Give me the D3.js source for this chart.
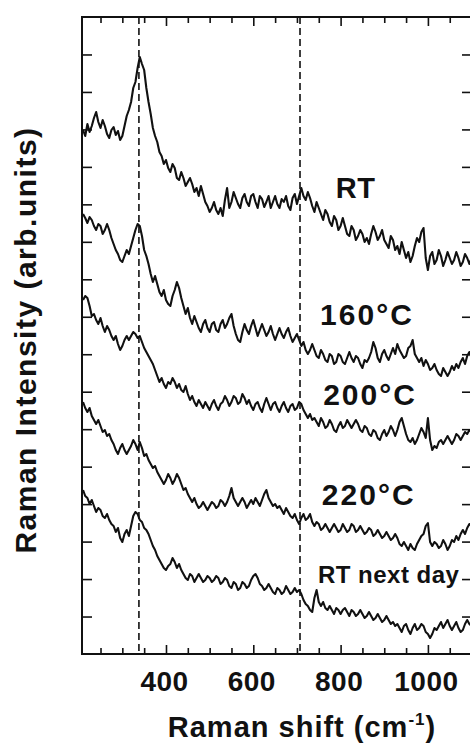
<!DOCTYPE html>
<html><head><meta charset="utf-8">
<script src="https://cdn.jsdelivr.net/npm/d3@7"></script>
<style>
html,body{margin:0;padding:0;background:#fff;}
svg{display:block;font-family:"Liberation Sans",Arial,Helvetica,sans-serif;}
</style></head>
<body><svg id="c" width="470" height="745"></svg>
<script>
// Raman shift grid (cm^-1)
const shifts = [210,215,220,225,230,235,240,245,250,255,260,265,270,275,280,285,290,295,300,305,
 310,315,320,325,330,335,340,345,350,355,360,365,370,375,380,385,390,395,400,405,
 410,415,420,425,430,435,440,445,450,455,460,465,470,475,480,485,490,495,500,505,
 510,515,520,525,530,535,540,545,550,555,560,565,570,575,580,585,590,595,600,605,
 610,615,620,625,630,635,640,645,650,655,660,665,670,675,680,685,690,695,700,705,
 710,715,720,725,730,735,740,745,750,755,760,765,770,775,780,785,790,795,800,805,
 810,815,820,825,830,835,840,845,850,855,860,865,870,875,880,885,890,895,900,905,
 910,915,920,925,930,935,940,945,950,955,960,965,970,975,980,985,990,995,1000,1005,
 1010,1015,1020,1025,1030,1035,1040,1045,1050,1055,1060,1065,1070,1075,1080,1085,1090,1095,1100];

// Intensities (arb. units, traces offset as plotted)
const rt = [524,518,530,522,528,536,542,532,526,534,528,520,516,524,527,519,523,514,518,528,
 538,544,552,566,572,586,597,590,584,566,552,540,526,518,512,502,498,490,494,486,
 482,490,486,476,474,482,476,468,472,476,470,462,466,458,468,460,452,448,442,446,
 452,444,440,446,438,454,466,446,452,462,456,450,446,456,460,452,448,458,460,452,
 446,458,455,447,452,458,446,452,458,450,446,455,452,458,448,444,456,460,450,458,
 466,458,454,462,456,448,442,452,446,440,434,444,440,432,428,438,434,424,428,436,
 428,420,418,428,424,414,418,424,420,412,416,410,420,428,422,414,418,424,414,410,
 406,418,414,404,408,400,412,404,396,402,392,398,408,416,412,422,426,396,384,398,
 402,390,394,404,398,388,394,402,396,390,394,402,396,388,392,400,396,390,396];
const t160 = [440,436,431,437,434,428,424,430,428,420,424,430,424,416,410,404,400,394,392,398,
 404,400,408,416,424,430,428,418,404,398,390,380,372,378,370,362,358,364,354,350,
 348,358,364,372,366,356,348,340,346,336,330,338,332,326,322,330,334,326,322,330,
 332,324,322,330,334,326,330,336,340,328,320,314,312,322,330,324,320,328,334,326,
 318,324,330,324,318,322,328,320,314,320,326,320,316,322,326,318,312,316,320,314,
 308,312,304,300,304,310,304,298,296,304,300,294,292,300,298,290,292,300,298,292,
 290,296,302,296,292,298,296,290,286,294,292,296,302,312,306,296,292,300,304,298,
 294,300,306,300,310,304,300,296,298,306,308,314,300,296,292,296,288,294,290,284,
 286,290,284,280,278,286,282,278,282,288,284,290,286,292,296,290,298,302,296];
const t200 = [354,358,356,348,338,340,334,330,336,328,322,328,324,318,314,318,310,304,308,314,
 318,314,318,322,320,316,318,312,306,302,298,294,290,284,278,272,276,270,266,272,
 270,276,272,266,270,264,262,268,260,254,258,252,248,254,250,246,252,248,244,250,
 254,248,244,250,252,258,254,248,252,258,256,250,252,260,256,250,254,248,244,250,
 252,246,242,250,256,250,244,250,252,246,242,248,252,246,242,248,250,244,246,252,
 250,244,240,236,240,234,236,232,228,236,232,226,228,234,230,224,222,228,232,226,
 228,234,230,226,230,234,230,224,222,228,226,220,218,224,222,216,214,220,224,218,
 222,228,224,218,224,232,236,228,220,214,212,216,210,214,220,226,222,216,236,214,
 204,208,206,212,214,210,214,218,214,210,214,220,218,214,218,222,220,224,222];
const t220 = [252,246,242,246,238,234,230,234,228,222,224,218,220,214,210,204,200,206,210,204,
 200,204,208,214,210,204,212,206,198,200,194,190,186,188,182,178,174,170,174,180,
 176,170,174,180,176,170,164,166,160,156,152,156,150,146,148,152,148,144,148,152,
 150,146,148,154,152,148,152,158,166,156,152,148,152,156,152,146,150,154,150,156,
 152,148,154,160,164,156,152,148,150,146,148,144,140,146,142,138,136,140,134,130,
 136,140,134,136,140,132,128,132,130,124,126,130,126,122,126,130,126,122,124,130,
 126,122,124,130,128,122,124,128,124,120,122,126,124,118,120,124,120,116,118,122,
 118,114,116,120,116,110,108,112,108,104,110,106,104,110,114,118,120,128,131,112,
 108,112,110,106,108,114,110,104,108,114,112,118,114,120,124,120,126,130,128];
const rtNext = [164,158,156,150,154,148,142,146,144,138,136,140,134,130,128,122,126,116,112,120,
 124,118,128,138,142,140,134,132,126,124,120,114,108,104,98,94,90,86,84,88,
 90,96,92,86,90,84,80,76,74,80,78,72,76,80,76,72,74,78,76,72,
 74,78,76,70,72,76,74,68,66,72,70,64,66,72,70,66,68,74,78,80,
 76,70,68,64,66,70,66,62,60,66,64,60,62,68,64,60,62,66,62,64,
 60,54,50,48,44,42,56,64,52,48,52,46,44,48,44,40,46,44,40,44,
 46,42,38,44,42,38,40,44,40,36,38,42,38,34,36,40,36,32,34,38,
 34,30,32,28,30,26,22,28,30,24,20,26,30,24,26,30,28,22,20,16,
 20,26,24,28,32,26,30,34,28,24,28,32,26,22,24,30,34,30,28];

const seriesNames = ["RT","160\u00B0C","200\u00B0C","220\u00B0C","RT next day"];
const seriesValues = [rt, t160, t200, t220, rtNext];
// label anchor (shift, intensity) in data coords
const labelShift = [789, 753, 760, 757, 748];
const labelLevel = [456, 329, 249, 149, 71];
const labelSize = [29, 30, 30, 30, 24];

const markerLines = [338, 707];
const xMajor = [400,600,800,1000];
const xTickLabels = ["400","600","800","1000"];
const xMinor = [250,300,350,450,500,550,650,700,750,850,900,950,1050,1100];
const yMax = 637, yDivisions = 17;

const L=82, R=472, T=17, B=654;
const svg = d3.select("#c");
const x = d3.scaleLinear().domain([207.6,1101]).range([L,R]);
const y = d3.scaleLinear().domain([0,yMax]).range([B,T]);

svg.append("defs").append("clipPath").attr("id","clip")
  .append("rect").attr("x",L).attr("y",T).attr("width",R-L).attr("height",B-T);

// dashed reference lines
svg.selectAll("line.dash").data(markerLines).enter().append("line")
  .attr("x1",d=>x(d)).attr("x2",d=>x(d)).attr("y1",T).attr("y2",B)
  .attr("stroke","#111").attr("stroke-width",1.6).attr("stroke-dasharray","7,4");

// traces
const line = d3.line().x((d,i)=>x(shifts[i])).y(d=>y(d));
svg.append("g").attr("clip-path","url(#clip)").selectAll("path").data(seriesValues).enter()
  .append("path").attr("d",d=>line(d)).attr("fill","none")
  .attr("stroke","#111").attr("stroke-width",2.1).attr("stroke-linejoin","round");

// axes (ticks pointing inward)
const gB = svg.append("g").attr("transform",`translate(0,${B})`)
  .call(d3.axisBottom(x).tickValues(xMajor).tickSize(-9).tickFormat((d,i)=>xTickLabels[i]).tickPadding(17));
const gBm = svg.append("g").attr("transform",`translate(0,${B})`)
  .call(d3.axisBottom(x).tickValues(xMinor).tickSize(-6).tickFormat(""));
const gT = svg.append("g").attr("transform",`translate(0,${T})`)
  .call(d3.axisTop(x).tickValues(xMajor).tickSize(-9).tickFormat(""));
const gTm = svg.append("g").attr("transform",`translate(0,${T})`)
  .call(d3.axisTop(x).tickValues(xMinor).tickSize(-6).tickFormat(""));
const yTicks = d3.range(1,yDivisions).map(i=>i*yMax/yDivisions);
const gL = svg.append("g").attr("transform",`translate(${L},0)`)
  .call(d3.axisLeft(y).tickValues(yTicks).tickSize(-10).tickFormat(""));
const gR = svg.append("g").attr("transform",`translate(${R},0)`)
  .call(d3.axisRight(y).tickValues(yTicks).tickSize(-10).tickFormat(""));
[gB,gBm,gT,gTm,gL,gR].forEach(g=>{
  g.select(".domain").remove();
  g.selectAll(".tick line").attr("stroke","#111").attr("stroke-width",1.6);
});
gB.selectAll(".tick text").attr("fill","#111").attr("font-size",28).attr("font-weight","bold")
  .attr("font-family","Liberation Sans, Arial, sans-serif").attr("letter-spacing","0.5px").attr("dx","-2");

// frame
svg.append("rect").attr("x",L).attr("y",T).attr("width",R-L).attr("height",B-T)
  .attr("fill","none").attr("stroke","#111").attr("stroke-width",2);

// series labels
svg.selectAll("text.lab").data(seriesNames).enter().append("text")
  .attr("x",(d,i)=>x(labelShift[i])).attr("y",(d,i)=>y(labelLevel[i]))
  .attr("font-size",(d,i)=>labelSize[i]).attr("font-weight","bold").attr("fill","#111")
  .attr("letter-spacing",(d,i)=>i===0||i===4?"0.5px":"2px")
  .text(d=>d);

// axis titles
svg.append("text").attr("x",302).attr("y",737).attr("text-anchor","middle")
  .attr("font-size",29).attr("font-weight","bold").attr("fill","#111").attr("letter-spacing","1px")
  .html('Raman shift (cm<tspan dy="-12" font-size="17">-1</tspan><tspan dy="12">)</tspan>');
svg.append("text").attr("transform","translate(36,340) rotate(-90)").attr("text-anchor","middle")
  .attr("font-size",30).attr("font-weight","bold").attr("fill","#111").attr("letter-spacing","1.5px")
  .text("Raman Intensity (arb.units)");
</script></body></html>
